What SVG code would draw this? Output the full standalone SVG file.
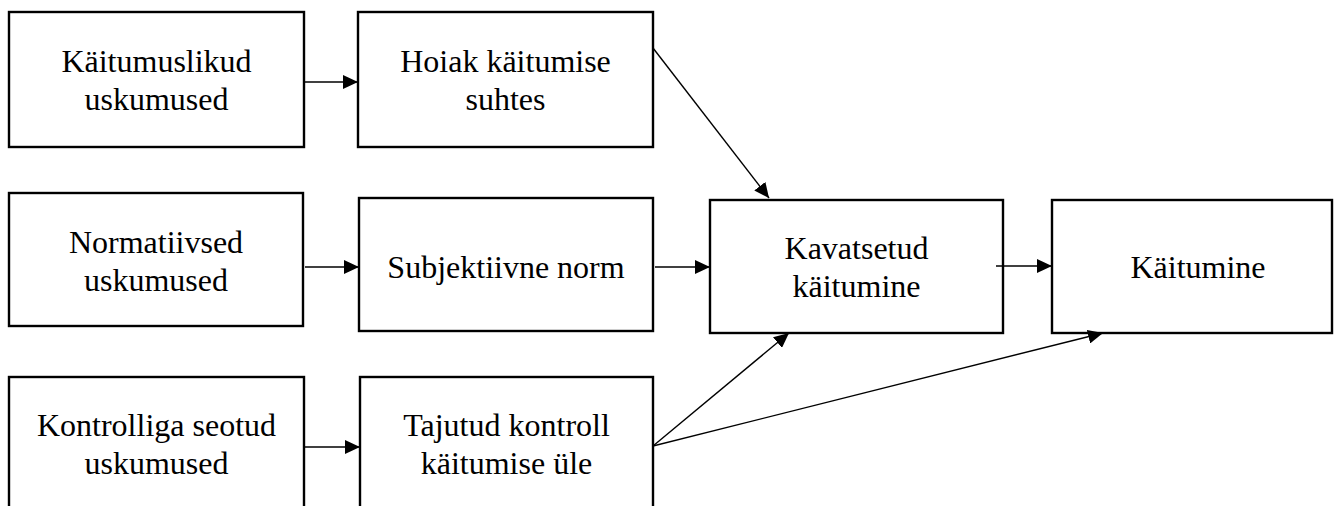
<svg xmlns="http://www.w3.org/2000/svg" width="1340" height="506" viewBox="0 0 1340 506">
<style>
.box{fill:#fff;stroke:#000;stroke-width:2.4}
.t{font-family:"Liberation Serif","Times New Roman",serif;font-size:32px;fill:#000;text-anchor:middle}
.c{stroke:#000;stroke-width:1.4;fill:none;marker-end:url(#ah)}
</style>
<defs>
<marker id="ah" markerUnits="userSpaceOnUse" markerWidth="16" markerHeight="14" refX="15" refY="7" orient="auto">
<path d="M0,0 L15,7 L0,14 z" fill="#000"/>
</marker>
</defs>
<rect width="1340" height="506" fill="#fff"/>
<g id="n1"><rect class="box" x="9" y="12" width="295" height="135"/><text class="t" x="156.5" y="72">Käitumuslikud</text><text class="t" x="156.5" y="110">uskumused</text></g>
<g id="n2"><rect class="box" x="358" y="12" width="295" height="135"/><text class="t" x="505.5" y="72">Hoiak käitumise</text><text class="t" x="505.5" y="110">suhtes</text></g>
<g id="n3"><rect class="box" x="9" y="193" width="294" height="133"/><text class="t" x="156" y="253">Normatiivsed</text><text class="t" x="156" y="291">uskumused</text></g>
<g id="n4"><rect class="box" x="359" y="198" width="294" height="133"/><text class="t" x="506" y="278">Subjektiivne norm</text></g>
<g id="n5"><rect class="box" x="710" y="200" width="293" height="133"/><text class="t" x="856.5" y="259">Kavatsetud</text><text class="t" x="856.5" y="297">käitumine</text></g>
<g id="n6"><rect class="box" x="1052" y="200" width="280" height="133"/><text class="t" x="1198" y="278">Käitumine</text></g>
<g id="n7"><rect class="box" x="9" y="377" width="295" height="140"/><text class="t" x="156.5" y="436">Kontrolliga seotud</text><text class="t" x="156.5" y="474">uskumused</text></g>
<g id="n8"><rect class="box" x="360" y="377" width="293" height="140"/><text class="t" x="506.5" y="436">Tajutud kontroll</text><text class="t" x="506.5" y="474">käitumise üle</text></g>
<g id="connectors">
<line class="c" x1="304" y1="82" x2="358" y2="82"/>
<line class="c" x1="653" y1="48" x2="769" y2="198"/>
<line class="c" x1="305" y1="267" x2="359" y2="267"/>
<line class="c" x1="655" y1="267" x2="710" y2="267"/>
<line class="c" x1="996" y1="266" x2="1052" y2="266"/>
<line class="c" x1="305" y1="447" x2="360" y2="447"/>
<line class="c" x1="653" y1="446" x2="789" y2="333"/>
<line class="c" x1="653" y1="446" x2="1103" y2="333"/>
</g>
</svg>
